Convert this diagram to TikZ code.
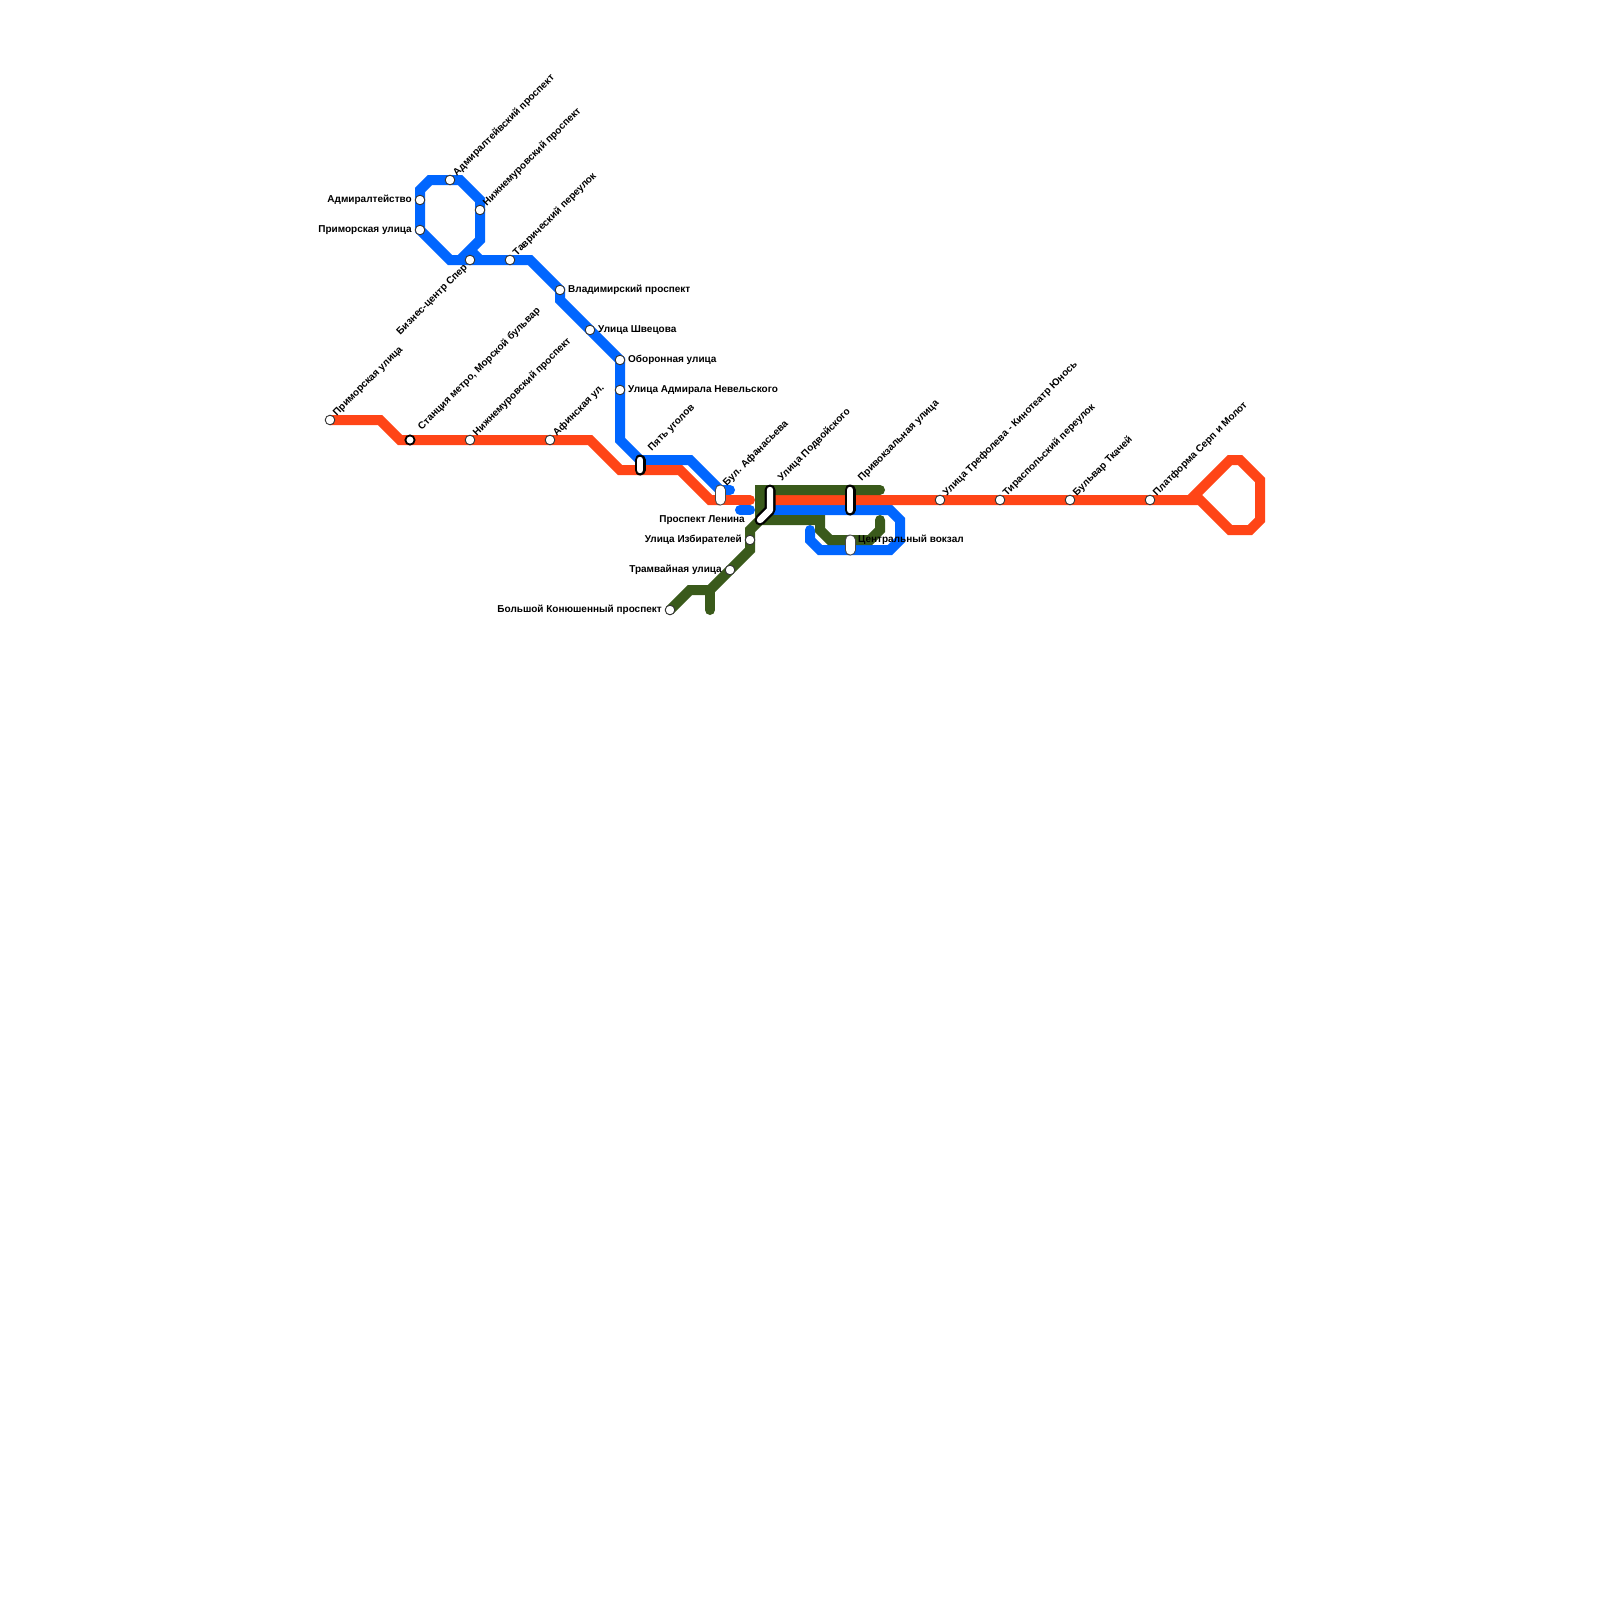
\documentclass[tikz,border=0pt]{standalone}
\usepackage{fontspec}
\setmainfont{Liberation Sans}
\usetikzlibrary{backgrounds}
\definecolor{lred}{HTML}{FF4517}
\definecolor{lblue}{HTML}{0066FF}
\definecolor{lgreen}{HTML}{3A5A1B}
\definecolor{ringc}{HTML}{333333}
\tikzset{
  x=1pt,y=-1pt,
  stn/.style={circle,draw=ringc,fill=white,line width=0.9pt,minimum size=9.6pt,inner sep=0pt},
  stnb/.style={stn,draw=black,line width=1.8pt,minimum size=9.2pt},
  pinpt/.style={inner sep=0pt,outer sep=0pt,minimum size=0pt},
  lab/.style={inner sep=0pt,font=\fontsize{10pt}{11pt}\selectfont\bfseries,text height=7pt,text depth=2pt},
  labr/.style={lab,anchor=west},
  labl/.style={lab,anchor=east},
  labu/.style={lab,anchor=west,rotate=45},
  labd/.style={lab,anchor=east,rotate=45},
  metro/.style={line width=10pt,line join=miter,miter limit=10},
  redl/.style={metro,draw=lred},
  bluel/.style={metro,draw=lblue},
  greenl/.style={metro,draw=lgreen},
  pillk/.style={line width=11pt,line cap=round,line join=round,draw=black},
  pillg/.style={line width=11pt,line cap=round,draw=ringc!90},
  pillw/.style={line width=6.4pt,line cap=round,line join=round,draw=white},
  pillwg/.style={line width=9pt,line cap=round,draw=white},
}
\begin{document}
\begin{tikzpicture}
\useasboundingbox (0,0) rectangle (1600,1600);
% stations
\node[stn] (adm) at (450,180) {};
\node[stn] (admt) at (420,200) {};
\node[stn] (prim) at (420,230) {};
\node[stn] (nizh) at (480,210) {};
\node[stn] (bc) at (470,260) {};
\node[stn] (tav) at (510,260) {};
\node[stn] (vla) at (560,290) {};
\node[stn] (shv) at (590,330) {};
\node[stn] (obo) at (620,360) {};
\node[stn] (nev) at (620,390) {};
\node[stn] (pri2) at (330,420) {};
\node[stnb] (met) at (410,440) {};
\node[stn] (nizh2) at (470,440) {};
\node[stn] (afi) at (550,440) {};
\node[stn] (tre) at (940,500) {};
\node[stn] (tir) at (1000,500) {};
\node[stn] (tka) at (1070,500) {};
\node[stn] (ser) at (1150,500) {};
\node[stn] (izb) at (750,540) {};
\node[stn] (tra) at (730,570) {};
\node[stn] (kon) at (670,610) {};
% interchange points
\node[pinpt] (p5a) at (640,460) {};
\node[pinpt] (p5b) at (640,470) {};
\node[pinpt] (afa) at (720,490) {};
\node[pinpt] (afb) at (720,500) {};
\node[pinpt] (poa) at (770,490) {};
\node[pinpt] (pob) at (770,510) {};
\node[pinpt] (len) at (760,520) {};
\node[pinpt] (vka) at (850,490) {};
\node[pinpt] (vkb) at (850,510) {};
\node[pinpt] (cva) at (850,540) {};
\node[pinpt] (cvb) at (850,550) {};
\node[pinpt] (rd1) at (750,500) {};
\node[pinpt] (rd2) at (770,500) {};
\node[pinpt] (jn) at (1190,500) {};
\node[pinpt] (bl1) at (730,490) {};
\node[pinpt] (bl2) at (740,510) {};
\node[pinpt] (bl3) at (750,510) {};
\node[pinpt] (bl4) at (810,530) {};
\node[pinpt] (gr1) at (880,490) {};
\node[pinpt] (gr2) at (760,490) {};
\node[pinpt] (gr3) at (710,610) {};
\node[pinpt] (gr4) at (710,590) {};
\node[pinpt] (gr5) at (880,520) {};
\node[pinpt] (bl5) at (480,260) {};
\node[pinpt] (bl6) at (470,250) {};
\node[pinpt] (bl7) at (460,260) {};
\begin{scope}[on background layer]
\fill[white] (0,0) rectangle (1600,1600);
% blue
\draw[bluel] (bl7.center) -- (480,240) -- (nizh.center) -- (480,200) -- (460,180) -- (adm.center) -- (430,180) -- (420,190) -- (admt.center) -- (prim.center) -- (450,260) -- (bc.center) -- (tav.center) -- (530,260) -- (vla.center) -- (560,300) -- (shv.center) -- (obo.center) -- (nev.center) -- (620,440) -- (p5a.center) -- (690,460) -- (afa.center);
\draw[bluel,line cap=round] (afa.center) -- (bl1.center);
\draw[bluel] (bl6.center) -- (bl5.center);
\draw[bluel,line cap=round] (bl2.center) -- (bl3.center);
\draw[bluel,line cap=round] (pob.center) -- (890,510) -- (900,520) -- (900,540) -- (890,550) -- (820,550) -- (810,540) -- (bl4.center);
% red
\draw[redl] (pri2.center) -- (380,420) -- (400,440) -- (met.center) -- (nizh2.center) -- (afi.center) -- (590,440) -- (620,470) -- (p5b.center) -- (680,470) -- (710,500) -- (afb.center);
\draw[redl,line cap=round] (afb.center) -- (rd1.center);
\draw[redl] (rd2.center) -- (tre.center) -- (tir.center) -- (tka.center) -- (ser.center) -- (jn.center) -- (1230,460) -- (1240,460) -- (1260,480) -- (1260,520) -- (1250,530) -- (1230,530) -- (1200,500) -- (jn.center);
% green
\draw[greenl,line cap=round] (gr1.center) -- (gr2.center) -- (len.center) -- (750,530) -- (izb.center) -- (750,550) -- (tra.center) -- (gr4.center) -- (690,590) -- (kon.center);
\draw[greenl,line cap=round] (700,590) -- (gr4.center) -- (gr3.center);
\draw[greenl,line cap=round] (len.center) -- (820,520) -- (820,530) -- (830,540) -- (870,540) -- (880,530) -- (gr5.center);
% interchanges
\draw[pillk] (poa.center) -- (pob.center) -- (len.center);
\draw[pillw] (poa.center) -- (pob.center) -- (len.center);
\draw[pillk] (vka.center) -- (vkb.center);
\draw[pillw] (vka.center) -- (vkb.center);
\draw[pillk] (p5a.center) -- (p5b.center);
\draw[pillw] (p5a.center) -- (p5b.center);
\draw[pillg] (afa.center) -- (afb.center);
\draw[pillwg] (afa.center) -- (afb.center);
\draw[pillg] (cva.center) -- (cvb.center);
\draw[pillwg] (cva.center) -- (cvb.center);
\end{scope}
% labels
\node[labu] (t1) at (455,174.5) {Адмиралтейвский проспект};
\node[labl] (t2) at (412,200) {Адмиралтейство};
\node[labl] (t3) at (412,230) {Приморская улица};
\node[labu] (t4) at (485,204.5) {Нижнемуровский проспект};
\node[labd] (t5) at (466,266) {Бизнес-центр Спер};
\node[labu] (t6) at (515,254.5) {Таврический переулок};
\node[labr] (t7) at (568,290) {Владимирский проспект};
\node[labr] (t8) at (598,330) {Улица Швецова};
\node[labr] (t9) at (628,360) {Оборонная улица};
\node[labr] (t10) at (628,390) {Улица Адмирала Невельского};
\node[labu] (t11) at (335,414.5) {Приморская улица};
\node[labu] (t12) at (420,428.5) {Станция метро, Морской бульвар};
\node[labu] (t13) at (475,434.5) {Нижнемуровский проспект};
\node[labu] (t14) at (555,434.5) {Афинская ул.};
\node[labu] (t15) at (650,449.5) {Пять уголов};
\node[labu] (t16) at (725,484.5) {Бул. Афанасьева};
\node[labu] (t17) at (780,479.5) {Улица Подвойского};
\node[labu] (t18) at (860,479.5) {Привокзальная улица};
\node[labr] (t19) at (858,540) {Центральный вокзал};
\node[labu] (t20) at (945,494.5) {Улица Трефолева - Кинотеатр Юнось};
\node[labu] (t21) at (1005,494.5) {Тираспольский переулок};
\node[labu] (t22) at (1075,494.5) {Бульвар Ткачей};
\node[labu] (t23) at (1155,494.5) {Платформа Серп и Молот};
\node[labl] (t24) at (745,520) {Проспект Ленина};
\node[labl] (t25) at (742,540) {Улица Избирателей};
\node[labl] (t26) at (722,570) {Трамвайная улица};
\node[labl] (t27) at (662,610) {Большой Конюшенный проспект};
\end{tikzpicture}
\end{document}
